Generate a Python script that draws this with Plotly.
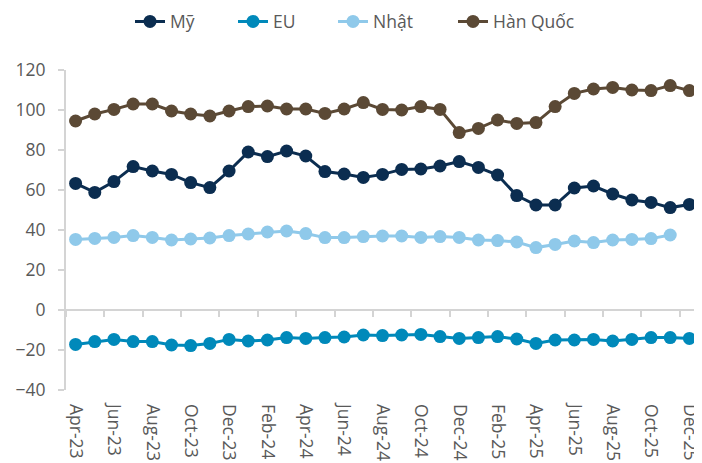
import plotly.graph_objects as go

months = ["Apr-23","May-23","Jun-23","Jul-23","Aug-23","Sep-23","Oct-23","Nov-23","Dec-23",
          "Jan-24","Feb-24","Mar-24","Apr-24","May-24","Jun-24","Jul-24","Aug-24","Sep-24","Oct-24","Nov-24","Dec-24",
          "Jan-25","Feb-25","Mar-25","Apr-25","May-25","Jun-25","Jul-25","Aug-25","Sep-25","Oct-25","Nov-25","Dec-25"]

my = [63.3, 58.8, 64.2, 71.7, 69.5, 67.8, 63.7, 61.2, 69.5,
      79.0, 76.7, 79.5, 77.0, 69.2, 68.0, 66.3, 67.8, 70.3, 70.5, 72.0, 74.2,
      71.3, 67.5, 57.2, 52.5, 52.5, 61.0, 62.0, 58.0, 55.0, 53.8, 51.2, 52.8]
eu = [-17.2, -15.8, -14.7, -15.8, -15.8, -17.5, -17.8, -16.7, -14.7,
      -15.5, -15.0, -13.8, -14.2, -13.8, -13.5, -12.5, -12.8, -12.5, -12.2, -13.3, -14.2,
      -13.8, -13.3, -14.5, -16.7, -15.0, -15.0, -14.7, -15.5, -14.7, -13.8, -13.8, -14.2]
nhat = [35.3, 35.8, 36.3, 37.2, 36.3, 35.0, 35.5, 36.0, 37.2,
        38.0, 39.0, 39.5, 38.2, 36.2, 36.2, 36.7, 37.0, 37.0, 36.3, 36.7, 36.3,
        35.0, 34.7, 34.0, 31.2, 32.8, 34.5, 33.7, 35.0, 35.3, 35.7, 37.5, None]
han = [94.5, 98.0, 100.3, 103.0, 103.0, 99.5, 98.0, 97.0, 99.5,
       101.7, 102.0, 100.5, 100.5, 98.3, 100.5, 103.7, 100.3, 100.0, 101.7, 100.3, 88.7,
       90.8, 95.0, 93.3, 93.7, 101.7, 108.3, 110.5, 111.3, 110.0, 109.7, 112.2, 109.7]

series = [("Mỹ", my, "#0b2d50"), ("EU", eu, "#0089ba"), ("Nhật", nhat, "#8fc9ea"), ("Hàn Quốc", han, "#5b4935")]

# page is offset by the default 8px body margin
W, H = 694, 455
legend_names = ["legend", "legend2", "legend3", "legend4"]
legend_marker_x = [152, 255, 355, 475]  # page px of legend marker centres

fig = go.Figure()
for (name, vals, col), lg in zip(series, legend_names):
    fig.add_trace(go.Scatter(x=months, y=vals, name=name, mode="lines+markers",
                             line=dict(color=col, width=3),
                             marker=dict(color=col, size=13),
                             connectgaps=False, legend=lg))

# invisible helper trace for the zero-line axis
fig.add_trace(go.Scatter(x=months, y=[0]*len(months), xaxis="x2", yaxis="y", mode="lines",
                         line=dict(width=0), opacity=0, showlegend=False, hoverinfo="skip"))

axis_col = "#d4d4d4"
font_col = "#595959"
fs = 17.5

legend_cfg = {}
for lg, mx in zip(legend_names, legend_marker_x):
    legend_cfg[lg] = dict(orientation="v", xref="container", yref="container",
                          x=(mx - 8 - 20 - 2) / W, xanchor="left",
                          y=1 - 13.5 / H, yanchor="middle", bgcolor="rgba(0,0,0,0)",
                          font=dict(size=fs, color=font_col))

fig.update_layout(
    width=W, height=H,
    margin=dict(l=58, r=3, t=62, b=73, autoexpand=False),
    plot_bgcolor="white", paper_bgcolor="white",
    font=dict(family="Open Sans", size=fs, color=font_col),
    showlegend=True,
    xaxis=dict(type="category", categoryorder="array", categoryarray=months,
               range=[-0.5, 32.5], dtick=2, tickangle=90, showline=False, ticks="",
               showgrid=False, zeroline=False, automargin=False, ticklabelstandoff=13,
               tickfont=dict(size=fs, color=font_col)),
    xaxis2=dict(type="category", categoryorder="array", categoryarray=months, matches="x",
                overlaying="x", anchor="free", position=0.25, range=[-0.5, 32.5],
                dtick=2, tickson="boundaries", ticks="outside", ticklen=6, tickwidth=2,
                tickcolor=axis_col, showline=True, linecolor=axis_col, linewidth=2,
                showticklabels=False, showgrid=False, zeroline=False, automargin=False),
    yaxis=dict(range=[-40, 120], dtick=20, showline=True, linecolor=axis_col, linewidth=2,
               ticks="outside", ticklen=6, tickwidth=2, tickcolor=axis_col, showgrid=False,
               zeroline=False, automargin=False, ticklabelstandoff=9,
               tickfont=dict(size=fs, color=font_col)),
    **legend_cfg,
)

fig.write_html("out.html")
